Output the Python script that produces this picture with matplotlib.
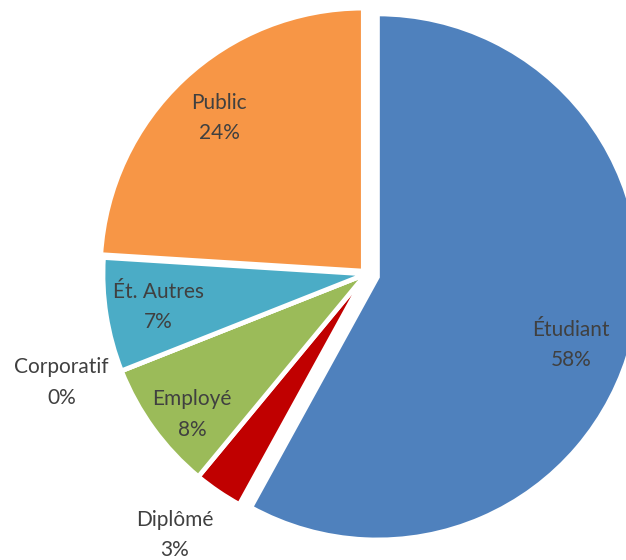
import numpy as np
import matplotlib
matplotlib.use("Agg")
import matplotlib.pyplot as plt

categories = ["Étudiant", "Diplômé", "Employé", "Corporatif", "Ét. Autres", "Public"]
shares = [58, 3, 8, 0, 7, 24]
pct_labels = ["58%", "3%", "8%", "0%", "7%", "24%"]

colors = ["#4F81BD", "#C00000", "#9BBB59", "#8064A2", "#4BACC6", "#F79646"]
explode = [0.045, 0, 0, 0, 0, 0.015]
# label placement (radius fraction, angle nudge in degrees)
label_dist = [0.78, 1.23, 0.85, 1.23, 0.80, 0.80]
label_nudge = [-5, -2, 3, -2, 0, 0]

W, H = 626, 560
R_px = 263.0
cx, cy = 366.0, 274.0  # pie centre in pixels (from top-left)

fig = plt.figure(figsize=(W / 100, H / 100), dpi=100)
ax = fig.add_axes([0, 0, 1, 1])

wedges, _ = ax.pie(shares, colors=colors, explode=explode, startangle=90,
                   counterclock=False, radius=1,
                   wedgeprops=dict(edgecolor="white", linewidth=3.4))

for w, cat, pct, d, nud in zip(wedges, categories, pct_labels, label_dist, label_nudge):
    mid = np.deg2rad((w.theta1 + w.theta2) / 2 + nud)
    x = w.center[0] + d * np.cos(mid)
    y = w.center[1] + d * np.sin(mid)
    ax.text(x, y, f"{cat}\n{pct}", ha="center", va="center", fontsize=15,
            family="Lato", color="#404040", linespacing=1.65)

ax.set_xlim(-cx / R_px, (W - cx) / R_px)
ax.set_ylim(-(H - cy) / R_px, cy / R_px)
ax.set_aspect("auto")
ax.axis("off")

fig.savefig("out.png", dpi=100, facecolor="white")
